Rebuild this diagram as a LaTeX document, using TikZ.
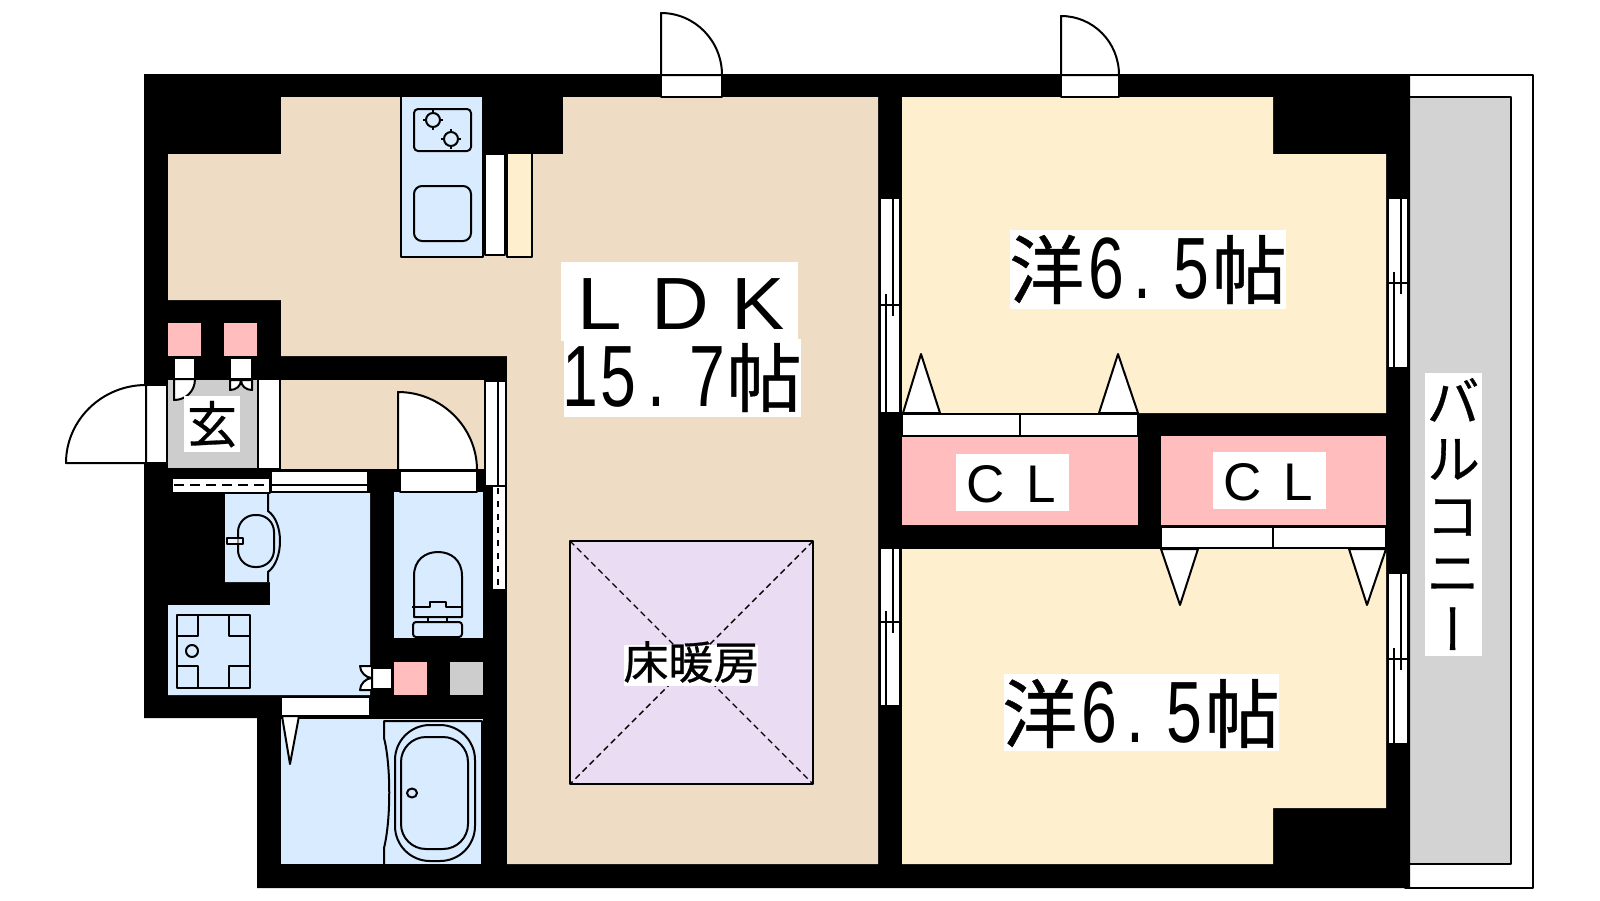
\documentclass[tikz,border=0pt]{standalone}
\usepackage{fontspec}
\setmainfont{Liberation Sans}
\newfontfamily\kj[FakeBold=0.6]{Noto Sans CJK JP}
\newfontfamily\kjv[RawFeature=+vert,FakeBold=0.6]{Noto Sans CJK JP}
\newfontfamily\dg[FakeStretch=0.74]{Liberation Sans}
\newfontfamily\latinwide[FakeStretch=1.08]{Liberation Sans}
\definecolor{beige}{HTML}{EEDDC4}
\definecolor{cream}{HTML}{FEF0CF}
\definecolor{aqua}{HTML}{D9EBFF}
\definecolor{pinkc}{HTML}{FFBDBD}
\definecolor{grayb}{HTML}{D3D3D3}
\definecolor{grayg}{HTML}{CDCDCD}
\definecolor{lilac}{HTML}{EADDF3}
\tikzset{
  ln/.style={draw=black,line width=1pt,line join=round},
  wh/.style={ln,fill=white},
  lbl/.style={inner sep=0pt,anchor=base,text=black},
  big/.style={lbl,font=\fontsize{43.5pt}{46pt}\dg},
}
\newcommand\jo{{\fontsize{37.5pt}{40pt}\kj 洋}\kern2pt 6\kern4.5pt.\kern11.5pt 5\kern1pt{\fontsize{37.5pt}{40pt}\kj 帖}}
% vertical window: x-left, y-top, y-bottom, y-cross
\newcommand\vwin[4]{%
  \begin{scope}[shift={(#1,0)}]
    \fill[white] (0,#2) rectangle (20,#3);
    \draw[ln] (0,#2) -- (0,#3) (20,#2) -- (20,#3) (0,#4) -- (20,#4);
    \draw[ln] (13,#2) -- (13,#4+11);
    \draw[ln] (6,#4-11) -- (6,#3);
  \end{scope}}
\begin{document}
\begin{tikzpicture}[x=0.5pt,y=-0.5pt]
\path[use as bounding box,fill=white] (0,0) rectangle (1600,900);
% balcony
\draw[wh] (1405,74.5) rectangle (1533,887.5);
\draw[ln,fill=grayb] (1405,97) rectangle (1511,864);
% wall silhouette
\fill[black] (144,74) -- (1410,74) -- (1410,888) -- (257,888) -- (257,718) -- (144,718) -- cycle;
% LDK floor
\fill[beige] (281,97) -- (483,97) -- (483,154) -- (563,154) -- (563,97) -- (878,97) -- (878,864) -- (507,864) -- (507,356) -- (281,356) -- (281,300) -- (168,300) -- (168,154) -- (281,154) -- cycle;
\fill[beige] (281,380) rectangle (484,469);
% bedrooms
\fill[cream] (902,97) -- (1273,97) -- (1273,154) -- (1386,154) -- (1386,413) -- (902,413) -- cycle;
\fill[cream] (902,549) -- (1386,549) -- (1386,808) -- (1273,808) -- (1273,864) -- (902,864) -- cycle;
% closets
\fill[pinkc] (902,437) rectangle (1138,525);
\fill[pinkc] (1161,436) rectangle (1386,525);
% small cupboards
\fill[pinkc] (168,323) rectangle (201,356);
\fill[pinkc] (224,323) rectangle (257,356);
\fill[pinkc] (394,662) rectangle (427,695);
\fill[grayg] (450,662) rectangle (483,695);
% genkan
\fill[grayg] (168,380) rectangle (258,468);
\fill[white] (258,380) rectangle (280,468);
\draw[ln] (258,380) -- (258,468) (280,380) -- (280,468);
% wet rooms
\fill[aqua] (225,493) -- (370,493) -- (370,695) -- (168,695) -- (168,605) -- (270,605) -- (270,582) -- (225,582) -- cycle;
\fill[aqua] (394,492) rectangle (483,638);
\fill[aqua] (281,719) rectangle (483,864);
% entrance door
\draw[wh] (146,385) rectangle (167,463);
\draw[wh] (146,385) .. controls (102,385) and (66,420) .. (66,463) -- (146,463) -- cycle;
% small doors at genkan
\fill[white] (174,358) rectangle (195,379);
\fill[white] (230,358) rectangle (252,379);
\draw[ln] (174,358) rectangle (195,379);
\draw[ln] (230,358) rectangle (252,379);
\draw[wh] (174,379) -- (174,400) .. controls (186,400) and (195,391) .. (195,379) -- cycle;
\draw[wh] (230,380) -- (230,390) .. controls (236,390) and (241,386) .. (241,380) .. controls (241,386) and (246,390) .. (252,390) -- (252,380) -- cycle;
% hall strips
\draw[wh] (172,478) rectangle (270,493);
\draw[line width=0.8pt,dash pattern=on 5pt off 3pt] (174,485) -- (268,485);
\draw[wh] (271,471) rectangle (368,492);
\draw[ln] (271,485) -- (368,485);
\draw[wh] (400,471) rectangle (477,492);
\draw[wh] (398,392) .. controls (441,392) and (477,427) .. (477,470) -- (398,470) -- cycle;
\draw[wh] (485,381) rectangle (506,486);
\draw[ln] (498,381) -- (498,486);
\draw[wh] (492,486) rectangle (506,590);
\draw[line width=0.8pt,dash pattern=on 3pt off 3.5pt] (498,488) -- (498,590);
% basin
\draw[ln] (268,493) -- (268,511) .. controls (284,522) and (284,560) .. (268,572) -- (268,582);
\draw[ln,rounded corners=8.5pt] (238,515) rectangle (274,567);
\draw[ln,fill=white,fill opacity=.55] (227,538) rectangle (243,544);
% washer pan
\draw[ln] (177,615) rectangle (250,688);
\draw[ln] (177,636) -- (198,636) -- (198,615) (250,636) -- (229,636) -- (229,615) (177,666) -- (198,666) -- (198,688) (250,666) -- (229,666) -- (229,688);
\draw[ln] (192,651) circle[radius=3pt];
% toilet
\draw[ln] (414,617) -- (414,576) .. controls (414,560) and (425,552) .. (438,552) .. controls (451,552) and (462,560) .. (462,576) -- (462,617) -- cycle;
\draw[ln] (412,607) -- (430,607) -- (430,602) -- (446,602) -- (446,607) -- (463,607);
\draw[ln] (428,617) rectangle (447,622);
\draw[ln,rounded corners=1.5pt] (413,622) rectangle (462,637);
% utility door
\fill[white] (372,668) rectangle (392,689);
\draw[ln] (372,668) rectangle (392,689);
\draw[wh] (372,666) -- (360,666) .. controls (360,672) and (366,678) .. (372,678) .. controls (366,678) and (360,684) .. (360,690) -- (372,690) -- cycle;
% bath door
\draw[wh] (281,697) rectangle (370,716);
\draw[wh] (282,716) -- (290,764) -- (299,716) -- cycle;
% bath
\draw[ln] (384,864) -- (384,848) .. controls (391,820) and (391,765) .. (384,738) -- (384,721) -- (482,721) -- (482,864);
\draw[ln,rounded corners=17.5pt] (395,725) rectangle (475,861);
\draw[ln,rounded corners=12.5pt] (401,737) rectangle (468,849);
\draw[ln] (412,793) ellipse[x radius=5,y radius=4.5];
% kitchen
\draw[ln,fill=aqua] (401,97) -- (401,257) -- (483,257) -- (483,97);
\draw[ln,rounded corners=2pt] (414,109) rectangle (471,151);
\draw[ln,rounded corners=4pt] (414,186) rectangle (471,241);
\foreach \cx/\cy in {433/120,451/139}{
  \draw[ln] (\cx,\cy) circle[radius=3.5pt];
  \draw[ln,line width=.6pt] (\cx-10,\cy) -- (\cx-7,\cy) (\cx+7,\cy) -- (\cx+10,\cy) (\cx,\cy-10) -- (\cx,\cy-7) (\cx,\cy+7) -- (\cx,\cy+10);
}
\draw[wh] (485,154) rectangle (505,255);
\draw[ln,fill=cream] (507,154) -- (507,257) -- (532,257) -- (532,154);
% top doors
\draw[wh] (661,75) rectangle (722,97);
\draw[wh] (661,13) .. controls (695,13) and (722,41) .. (722,75) -- (661,75) -- cycle;
\draw[wh] (1061,75) rectangle (1119,97);
\draw[wh] (1061,16) .. controls (1093,16) and (1119,42) .. (1119,75) -- (1061,75) -- cycle;
% windows
\vwin{880}{199}{412}{305}
\vwin{880}{549}{705}{622}
\vwin{1388}{199}{367}{283}
\vwin{1388}{574}{743}{659}
% closet doors
\draw[wh] (902,414) rectangle (1138,436);
\draw[ln] (1020,414) -- (1020,436);
\draw[wh] (903,413) -- (921,354) -- (940,413) -- cycle;
\draw[wh] (1099,413) -- (1118,354) -- (1138,413) -- cycle;
\draw[wh] (1161,527) rectangle (1386,548);
\draw[ln] (1273,527) -- (1273,548);
\draw[wh] (1161,549) -- (1180,605) -- (1198,549) -- cycle;
\draw[wh] (1349,549) -- (1367,605) -- (1386,549) -- cycle;
% floor heating
\draw[ln,fill=lilac] (570,541) rectangle (813,784);
\draw[line width=.7pt,dash pattern=on 3pt off 2pt] (570,541) -- (813,784) (813,541) -- (570,784);
% labels
\fill[white] (561,262) rectangle (798,341);
\fill[white] (564,339) rectangle (801,417);
\node[lbl,font=\fontsize{37pt}{40pt}\latinwide] (ldk) at (681,329) {L\kern15pt D\kern11pt K};
\node[big] (area) at (682,406) {1\kern1pt 5\kern6pt.\kern12pt 7\kern0.5pt{\fontsize{37.5pt}{40pt}\kj 帖}};
\fill[white] (1010,230) rectangle (1286,309);
\node[big] (room1) at (1148,298) {\jo};
\fill[white] (1004,674) rectangle (1279,751);
\node[big] (room2) at (1141,742) {\jo};
\fill[white] (956,454) rectangle (1069,511);
\node[lbl,font=\fontsize{26.5pt}{28pt}\selectfont] (cl1) at (1011,502) {C\kern11pt L};
\fill[white] (1213,452) rectangle (1326,509);
\node[lbl,font=\fontsize{26.5pt}{28pt}\selectfont] (cl2) at (1268,500) {C\kern11pt L};
\fill[white] (184,396) rectangle (240,452);
\node[lbl,font=\fontsize{25pt}{26pt}\kj] (gen) at (212,443) {玄};
\fill[white] (624,645) rectangle (758,686);
\node[lbl,font=\fontsize{22.5pt}{24pt}\kj] (heat) at (691,679) {床暖房};
\fill[white] (1425,373) rectangle (1482,656);
\node[inner sep=0pt,align=center,font=\fontsize{27pt}{28.5pt}\kjv] (balc) at (1453,514) {バ\\ル\\コ\\ニ\\ー};
\end{tikzpicture}
\end{document}
